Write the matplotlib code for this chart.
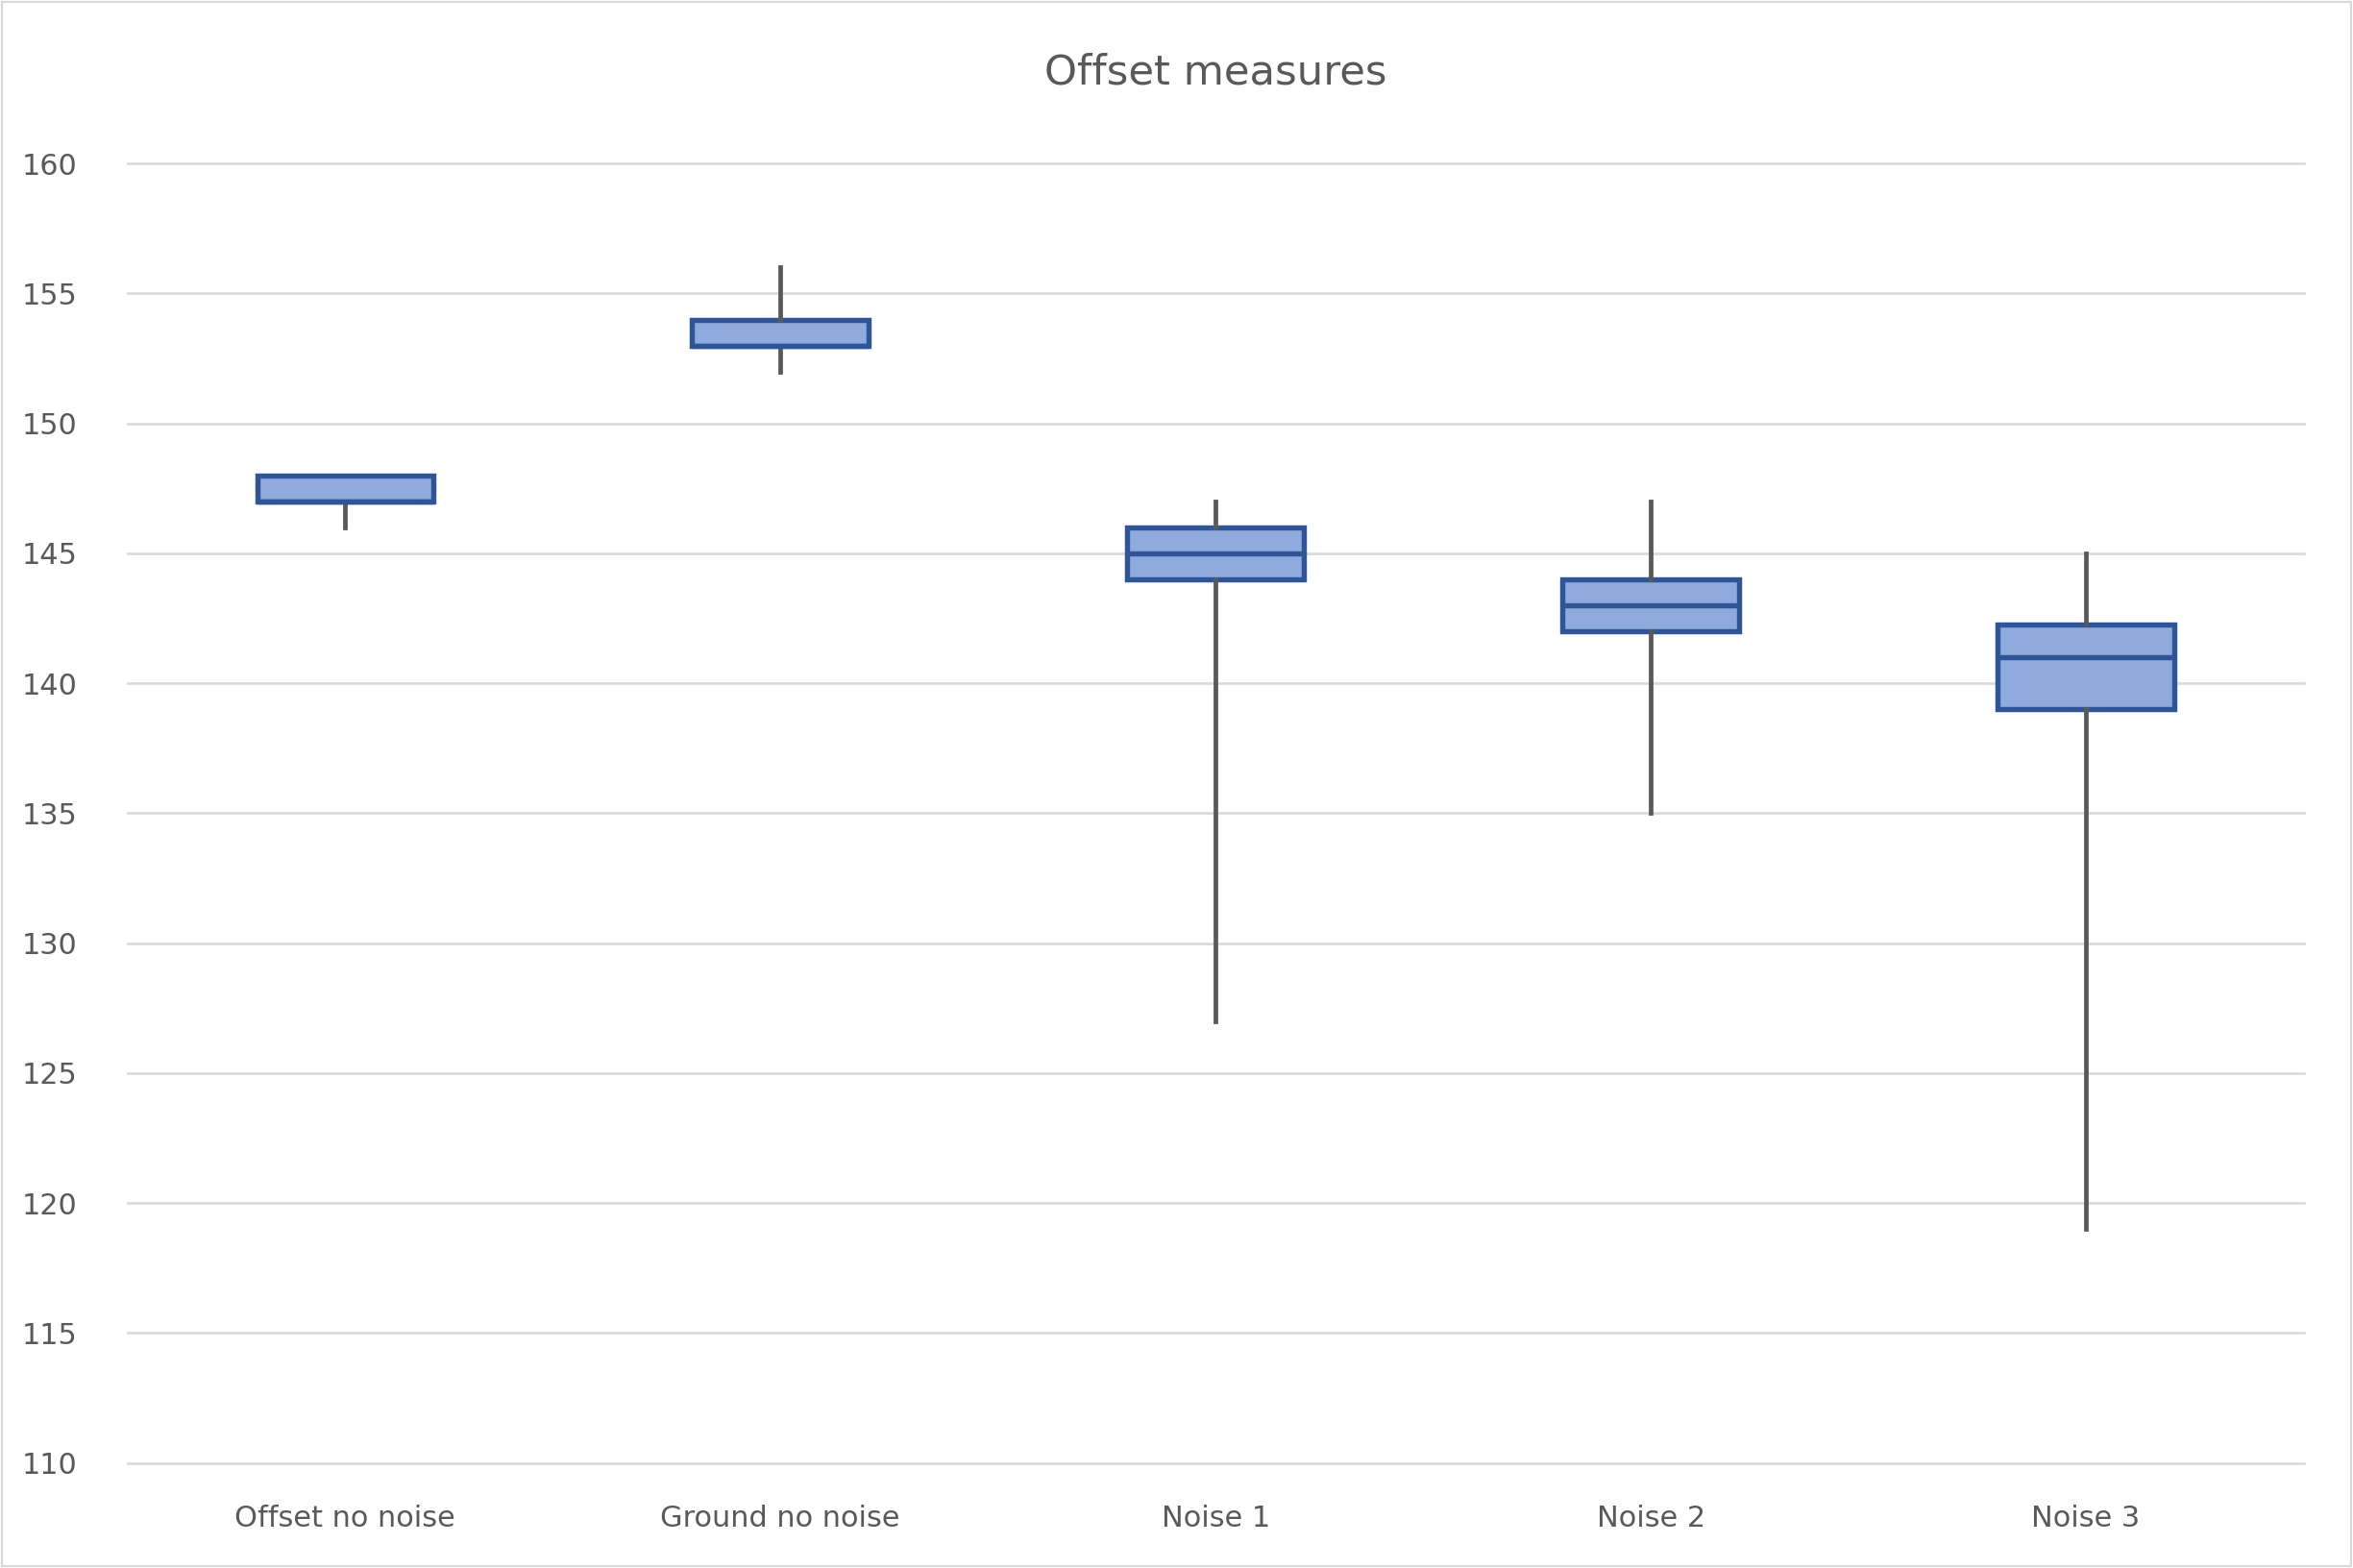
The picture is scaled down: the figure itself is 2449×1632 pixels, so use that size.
import matplotlib
matplotlib.use("Agg")
import matplotlib.pyplot as plt

categories = ["Offset no noise", "Ground no noise", "Noise 1", "Noise 2", "Noise 3"]
whislo = [146, 152, 127, 135, 119]
q1 = [147, 153, 144, 142, 139]
med = [147, 153, 145, 143, 141]
q3 = [148, 154, 146, 144, 142.25]
whishi = [148, 156, 147, 147, 145]
yticks = list(range(110, 161, 5))

W, H = 1568, 1045
fig = plt.figure(figsize=(15.674, 10.4448), dpi=156.25)
ax = fig.add_axes([85/W, 1-975/H, 1450/W, 866/H])

stats = [dict(label=c, whislo=a, q1=b, med=m, q3=d, whishi=e, fliers=[])
         for c, a, b, m, d, e in zip(categories, whislo, q1, med, q3, whishi)]
ax.bxp(stats, positions=range(len(categories)), widths=0.405, patch_artist=True,
       showcaps=False,
       boxprops=dict(facecolor="#8FAADC", edgecolor="#2F5597", linewidth=2.5),
       medianprops=dict(color="#2F5597", linewidth=2.5),
       whiskerprops=dict(color="#595959", linewidth=2.2))
ax.set_xlim(-0.5, len(categories)-0.5)
ax.set_ylim(110, 160)
ax.set_yticks(yticks)
ax.yaxis.grid(True, color="#D9D9D9", linewidth=1.2)
for gl in ax.get_ygridlines():
    gl.set_clip_on(False)
ax.set_axisbelow(True)
for s in ax.spines.values():
    s.set_visible(False)
ax.tick_params(length=0, labelsize=14, labelcolor="#595959")
ax.tick_params(axis="y", pad=24)
ax.tick_params(axis="x", pad=20)
ax.set_title("Offset measures", fontsize=20, color="#595959", pad=38)
fig.patches.append(plt.Rectangle((0.001, 0.001), 0.998, 0.998, transform=fig.transFigure,
                                 fill=False, edgecolor="#D9D9D9", linewidth=1))
fig.savefig("out.png", dpi=156.25)
